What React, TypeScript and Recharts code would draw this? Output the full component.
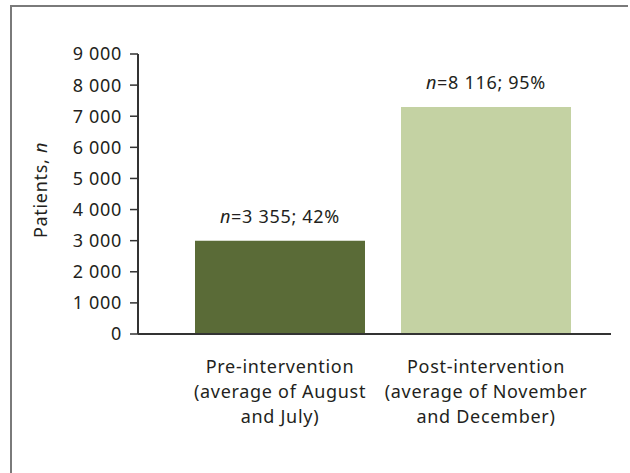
import React from 'react';
import {BarChart, Bar, XAxis, YAxis, Cell, LabelList} from 'recharts';

const categories = [
    ['Pre-intervention', '(average of August', 'and July)'],
    ['Post-intervention', '(average of November', 'and December)'],
];
const patients = [3000, 7300];
const barLabels = ['3 355; 42%', '8 116; 95%'];
const barColors = ['#5a6b37', '#c4d2a3'];
const yTicks = [0, 1000, 2000, 3000, 4000, 5000, 6000, 7000, 8000, 9000];

const FONT = '"Noto Sans", sans-serif';
const TEXT = '#231f20';
const FS = 18;
const LS = 0.7;

const data = categories.map((c, i) => ({
    name: c.join(' '),
    value: patients[i],
    label: barLabels[i],
}));

const fmt = (v: number) => v.toString().replace(/\B(?=(\d{3})+(?!\d))/g, ' ');

function CategoryTick(props: any) {
    const {x, y, index} = props;
    const lines = categories[index] || [];
    return (
        <text x={x} y={y} textAnchor="middle" fill={TEXT} fontSize={FS} letterSpacing={LS} fontFamily={FONT}>
            {lines.map((l, i) => (
                <tspan key={i} x={x} dy={i === 0 ? 31 : 25}>{l}</tspan>
            ))}
        </text>
    );
}

function BarTopLabel(props: any) {
    const {x, y, width, index} = props;
    return (
        <text x={x + width / 2} y={y - 18} textAnchor="middle" fill={TEXT} fontSize={FS} letterSpacing={LS} fontFamily={FONT}>
            <tspan fontStyle="italic">n</tspan>
            <tspan>={barLabels[index]}</tspan>
        </text>
    );
}

function YTitle(props: any) {
    const {viewBox} = props;
    const cx = viewBox.x + 10;
    const cy = 190;
    return (
        <text x={cx} y={cy} transform={`rotate(-90, ${cx}, ${cy})`} textAnchor="middle"
              dominantBaseline="central" fill={TEXT} fontSize={FS} letterSpacing={LS} fontFamily={FONT}>
            <tspan>Patients, </tspan>
            <tspan fontStyle="italic">n</tspan>
        </text>
    );
}

export default function App() {
    return (
        <div style={{position: 'absolute', left: 0, top: 0, width: 630, height: 473, background: '#fff', overflow: 'hidden'}}>
            <BarChart width={630}
                      height={473}
                      data={data}
                      barCategoryGap={18}
                      margin={{top: 54, right: 19, bottom: 109, left: 30}}>
                <XAxis dataKey="name"
                       tick={<CategoryTick/>}
                       tickLine={false}
                       interval={0}
                       padding={{left: 39, right: 22}}
                       axisLine={{stroke: '#333', strokeWidth: 2}}/>
                <YAxis domain={[0, 9000]}
                       ticks={yTicks}
                       interval={0}
                       width={108}
                       tickSize={8}
                       tickMargin={8}
                       tickFormatter={fmt}
                       tick={{fill: TEXT, fontSize: FS, letterSpacing: LS, fontFamily: FONT}}
                       tickLine={{stroke: '#333', strokeWidth: 1.5}}
                       axisLine={{stroke: '#333', strokeWidth: 2}}
                       label={<YTitle/>}/>
                <Bar dataKey="value" isAnimationActive={false}>
                    {data.map((d, i) => <Cell key={i} fill={barColors[i]}/>)}
                    <LabelList dataKey="label" content={<BarTopLabel/>}/>
                </Bar>
            </BarChart>
            <div style={{
                position: 'absolute', left: 10, top: 5, width: 616, height: 480,
                borderTop: '2px solid #7a7a7a', borderLeft: '2px solid #7a7a7a',
                pointerEvents: 'none',
            }}/>
        </div>
    );
}
